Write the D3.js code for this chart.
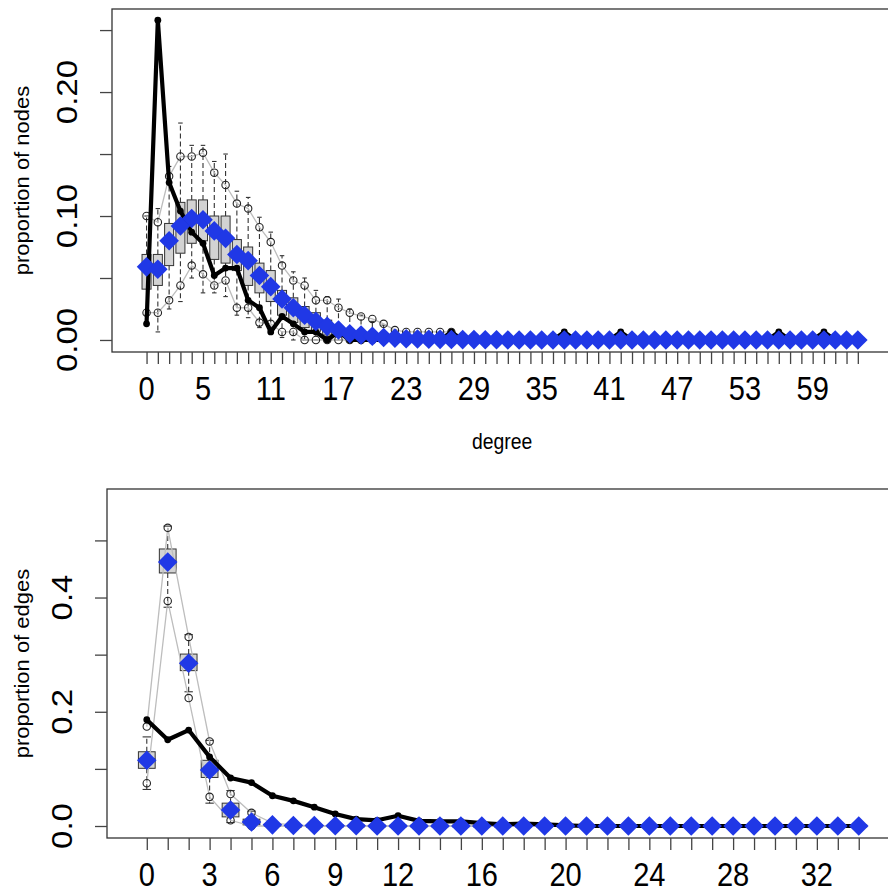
<!DOCTYPE html>
<html><head><meta charset="utf-8">
<script src="https://cdn.jsdelivr.net/npm/d3@7"></script>
<style>body{margin:0;background:#fff}svg{display:block}</style>
</head><body>
<svg id="c" width="888" height="892"></svg>
<script>
// ---------- DATA: top panel (degree) ----------
const degNodes = [0,1,2,3,4,5,6,7,8,9,10,11,12,13,14,15,16,17,18,19,20,21,22,23,24,25,26,27,28,29,30,31,32,33,34,35,36,37,38,39,40,41,42,43,44,45,46,47,48,49,50,51,52,53,54,55,56,57,58,59,60,61,62,63];
const nodeTickLabels = [0,5,11,17,23,29,35,41,47,53,59];
const nodeYTicks = [0,0.05,0.10,0.15,0.20,0.25];
const nodeYLabels = [0,0.10,0.20];
const obsNodes = [0.013,0.258,0.127,0.104,0.087,0.078,0.052,0.058,0.058,0.032,0.026,0.0065,0.019,0.013,0.0065,0.0065,0,0.0065,0,0,0,0,0,0,0,0,0,0.0065,0,0,0,0,0,0,0,0,0,0.0065,0,0,0,0,0.0065,0,0,0,0,0,0,0,0,0,0,0,0,0,0.0065,0,0,0,0.0065,0,0,0];
const meanNodes = [0.059,0.057,0.080,0.092,0.098,0.097,0.088,0.082,0.069,0.064,0.052,0.043,0.033,0.026,0.020,0.015,0.011,0.008,0.005,0.004,0.003,0.002,0.0015,0.001,0.0008,0.0006,0.0005,0.0004,0.0003,0.0003,0.0002,0.0002,0,0,0,0,0,0,0,0,0,0,0,0,0,0,0,0,0,0,0,0,0,0,0,0,0,0,0,0,0,0,0,0];
const q3Nodes = [0.069,0.069,0.094,0.111,0.113,0.113,0.100,0.100,0.081,0.075,0.062,0.056,0.040,0.034,0.027,0.022,0.016,0.011,0.008,0.006,0.004,0.003,0.002,0,0,0,0,0,0,0,0,0,0,0,0,0,0,0,0,0,0,0,0,0,0,0,0,0,0,0,0,0,0,0,0,0,0,0,0,0,0,0,0,0];
const medNodes = [0.058,0.057,0.078,0.091,0.097,0.097,0.091,0.084,0.071,0.065,0.052,0.045,0.032,0.026,0.019,0.013,0.010,0.006,0.004,0.003,0.002,0,0,0,0,0,0,0,0,0,0,0,0,0,0,0,0,0,0,0,0,0,0,0,0,0,0,0,0,0,0,0,0,0,0,0,0,0,0,0,0,0,0,0];
const q1Nodes = [0.041,0.044,0.060,0.070,0.078,0.080,0.065,0.062,0.056,0.044,0.038,0.031,0.020,0.014,0.010,0.007,0.004,0.003,0.001,0,0,0,0,0,0,0,0,0,0,0,0,0,0,0,0,0,0,0,0,0,0,0,0,0,0,0,0,0,0,0,0,0,0,0,0,0,0,0,0,0,0,0,0,0];
const wHiNodes = [0.100,0.106,0.140,0.175,0.157,0.157,0.144,0.150,0.120,0.115,0.099,0.087,0.068,0.055,0.050,0.040,0.035,0.033,0.025,0.020,0.015,0.012,0.008,0.005,0.004,0.003,0.002,0.002,0,0,0,0,0,0,0,0,0,0,0,0,0,0,0,0,0,0,0,0,0,0,0,0,0,0,0,0,0,0,0,0,0,0,0,0];
const wLoNodes = [0.020,0.0065,0.025,0.031,0.050,0.038,0.038,0.035,0.020,0.018,0.010,0.005,0.002,0,0,0,0,0,0,0,0,0,0,0,0,0,0,0,0,0,0,0,0,0,0,0,0,0,0,0,0,0,0,0,0,0,0,0,0,0,0,0,0,0,0,0,0,0,0,0,0,0,0,0];
const hiNodes = [0.100,0.095,0.132,0.148,0.148,0.151,0.135,0.125,0.110,0.106,0.091,0.079,0.060,0.048,0.044,0.032,0.032,0.026,0.022,0.019,0.017,0.013,0.008,0.0065,0.0065,0.0065,0.0065,0.0065,0,0,0,0,0,0,0,0,0,0,0,0,0,0,0,0,0,0,0,0,0,0,0,0,0,0,0,0,0,0,0,0,0,0,0,0];
const loNodes = [0.022,0.022,0.032,0.044,0.060,0.053,0.044,0.048,0.026,0.026,0.014,0.013,0.0065,0.0065,0,0,0,0,0,0,0,0,0,0,0,0,0,0,0,0,0,0,0,0,0,0,0,0,0,0,0,0,0,0,0,0,0,0,0,0,0,0,0,0,0,0,0,0,0,0,0,0,0,0];

// ---------- DATA: bottom panel (edgewise shared partners) ----------
const degEdges = [0,1,2,3,4,5,6,7,8,9,10,11,12,13,14,15,16,17,18,19,20,21,22,23,24,25,26,27,28,29,30,31,32,33,34];
const edgeTickLabels = [0,3,6,9,12,16,20,24,28,32];
const edgeYTicks = [0,0.1,0.2,0.3,0.4,0.5];
const edgeYLabels = [0,0.2,0.4];
const obsEdges = [0.186,0.151,0.168,0.121,0.084,0.076,0.053,0.044,0.033,0.021,0.012,0.010,0.018,0.009,0.008,0.008,0.005,0.003,0.004,0.003,0.001,0,0,0,0,0,0,0,0,0,0,0,0,0,0];
const meanEdges = [0.115,0.462,0.285,0.098,0.028,0.007,0.002,0.001,0.001,0.0005,0.0005,0,0,0,0,0,0,0,0,0,0,0,0,0,0,0,0,0,0,0,0,0,0,0,0];
const q3Edges = [0.130,0.485,0.301,0.115,0.040,0.012,0.003,0,0,0,0,0,0,0,0,0,0,0,0,0,0,0,0,0,0,0,0,0,0,0,0,0,0,0,0];
const medEdges = [0.116,0.463,0.286,0.099,0.027,0.006,0.001,0,0,0,0,0,0,0,0,0,0,0,0,0,0,0,0,0,0,0,0,0,0,0,0,0,0,0,0];
const q1Edges = [0.101,0.443,0.272,0.085,0.016,0.002,0,0,0,0,0,0,0,0,0,0,0,0,0,0,0,0,0,0,0,0,0,0,0,0,0,0,0,0,0];
const wHiEdges = [0.156,0.525,0.335,0.150,0.062,0.026,0.007,0.002,0,0,0,0,0,0,0,0,0,0,0,0,0,0,0,0,0,0,0,0,0,0,0,0,0,0,0];
const wLoEdges = [0.064,0.383,0.235,0.040,0.006,0,0,0,0,0,0,0,0,0,0,0,0,0,0,0,0,0,0,0,0,0,0,0,0,0,0,0,0,0,0];
const hiEdges = [0.174,0.522,0.331,0.148,0.056,0.023,0.005,0.002,0,0,0,0,0,0,0,0,0,0,0,0,0,0,0,0,0,0,0,0,0,0,0,0,0,0,0];
const loEdges = [0.075,0.394,0.224,0.051,0.010,0,0,0,0,0,0,0,0,0,0,0,0,0,0,0,0,0,0,0,0,0,0,0,0,0,0,0,0,0,0];

// ---------- DRAWING ----------
const svg = d3.select("#c");
const FONT = "'Liberation Sans', Arial, Helvetica, sans-serif";
const SX = 0.88;
const BLUE = "#2038e6";

function panel(o) {
  const n = o.cats.length;
  const ext = 0.04 * (n);
  const x = d3.scaleLinear().domain([-0.5 - ext, n - 0.5 + ext]).range([o.left, o.left + o.pxPerUnit * (n + 2 * ext)]);
  const y = d3.scaleLinear().domain(o.ydom).range([o.bottom, o.top]);
  const g = svg.append("g");
  const bw = o.pxPerUnit * 0.8;

  const bx = g.append("g");
  o.cats.forEach((d, i) => {
    const cx = x(d);
    bx.append("line").attr("x1", cx).attr("x2", cx).attr("y1", y(o.q3[i])).attr("y2", y(o.wHi[i]))
      .attr("stroke", "#333").attr("stroke-width", 1.1).attr("stroke-dasharray", "5,3");
    bx.append("line").attr("x1", cx).attr("x2", cx).attr("y1", y(o.q1[i])).attr("y2", y(o.wLo[i]))
      .attr("stroke", "#333").attr("stroke-width", 1.1).attr("stroke-dasharray", "5,3");
    [o.wHi[i], o.wLo[i]].forEach(v => {
      bx.append("line").attr("x1", cx - bw / 4).attr("x2", cx + bw / 4).attr("y1", y(v)).attr("y2", y(v))
        .attr("stroke", "#333").attr("stroke-width", 1.1);
    });
    bx.append("rect").attr("x", cx - bw / 2).attr("width", bw)
      .attr("y", y(o.q3[i])).attr("height", Math.max(0, y(o.q1[i]) - y(o.q3[i])))
      .attr("fill", "#d3d3d3").attr("stroke", "#333").attr("stroke-width", 1);
    bx.append("line").attr("x1", cx - bw / 2).attr("x2", cx + bw / 2).attr("y1", y(o.med[i])).attr("y2", y(o.med[i]))
      .attr("stroke", "#222").attr("stroke-width", 3);
  });

  const ln = d3.line().x((d, i) => x(o.cats[i])).y(d => y(d));
  [o.hi, o.lo].forEach(arr => {
    g.append("path").attr("d", ln(arr)).attr("fill", "none").attr("stroke", "#bdbdbd").attr("stroke-width", 1.3);
  });
  [o.hi, o.lo].forEach(arr => {
    g.append("g").selectAll("circle").data(arr).join("circle")
      .attr("cx", (d, i) => x(o.cats[i])).attr("cy", d => y(d)).attr("r", 3.7)
      .attr("fill", "none").attr("stroke", "#222").attr("stroke-width", 1.1);
  });

  g.append("path").attr("d", ln(o.obs)).attr("fill", "none").attr("stroke", "#000")
    .attr("stroke-width", 4.2).attr("stroke-linejoin", "round");
  g.append("g").selectAll("circle").data(o.obs).join("circle")
    .attr("cx", (d, i) => x(o.cats[i])).attr("cy", d => y(d)).attr("r", 3.4).attr("fill", "#000");

  const s = 9.8;
  g.append("g").selectAll("path").data(o.mean).join("path")
    .attr("d", `M0,${-s}L${s},0L0,${s}L${-s},0Z`)
    .attr("transform", (d, i) => `translate(${x(o.cats[i])},${y(d)})`)
    .attr("fill", BLUE);

  g.append("rect").attr("x", x.range()[0]).attr("y", o.top)
    .attr("width", x.range()[1] - x.range()[0]).attr("height", o.bottom - o.top)
    .attr("fill", "none").attr("stroke", "#333").attr("stroke-width", 1.3);

  const xa = g.append("g").attr("transform", `translate(0,${o.bottom})`)
    .call(d3.axisBottom(x).tickValues(o.cats).tickSize(12).tickSizeOuter(0).tickFormat(() => ""));
  xa.select(".domain").remove();
  xa.selectAll(".tick line").attr("stroke", "#444").attr("stroke-width", 1.3);
  o.xLabels.forEach(d => {
    g.append("text").attr("transform", `translate(${x(d)},${o.bottom + 48}) scale(${SX},1)`)
      .attr("text-anchor", "middle").attr("font-family", FONT).attr("font-size", 33).attr("fill", "#000").text(d);
  });

  const ya = g.append("g").attr("transform", `translate(${x.range()[0]},0)`)
    .call(d3.axisLeft(y).tickValues(o.yTicks).tickSize(12).tickSizeOuter(0).tickFormat(() => ""));
  ya.select(".domain").remove();
  ya.selectAll(".tick line").attr("stroke", "#444").attr("stroke-width", 1.3);
  o.yLabels.forEach(v => {
    g.append("text").attr("transform", `translate(${x.range()[0] - 35},${y(v)}) scale(${SX},1) rotate(-90)`)
      .attr("text-anchor", "middle").attr("font-family", FONT).attr("font-size", 33).attr("fill", "#000")
      .text(d3.format(o.yFmt)(v));
  });
  g.append("text").attr("transform", `translate(29,${(o.top + o.bottom) / 2}) scale(${SX},1) rotate(-90)`)
    .attr("text-anchor", "middle").attr("font-family", FONT).attr("font-size", 22).attr("fill", "#000").text(o.ylab);
  if (o.xlab) {
    g.append("text").attr("transform", `translate(${(x.range()[0] + x.range()[1]) / 2},449) scale(${SX},1)`)
      .attr("text-anchor", "middle").attr("font-family", FONT).attr("font-size", 22).attr("fill", "#000").text(o.xlab);
  }
}

panel({cats: degNodes, left: 112, pxPerUnit: 11.29, top: 9, bottom: 352, ydom: [-0.0097, 0.267],
  q3: q3Nodes, med: medNodes, q1: q1Nodes, wHi: wHiNodes, wLo: wLoNodes, hi: hiNodes, lo: loNodes,
  obs: obsNodes, mean: meanNodes, xLabels: nodeTickLabels, yTicks: nodeYTicks, yLabels: nodeYLabels,
  yFmt: ".2f", ylab: "proportion of nodes", xlab: "degree"});

panel({cats: degEdges, left: 107, pxPerUnit: 20.94, top: 489, bottom: 838, ydom: [-0.021, 0.590],
  q3: q3Edges, med: medEdges, q1: q1Edges, wHi: wHiEdges, wLo: wLoEdges, hi: hiEdges, lo: loEdges,
  obs: obsEdges, mean: meanEdges, xLabels: edgeTickLabels, yTicks: edgeYTicks, yLabels: edgeYLabels,
  yFmt: ".1f", ylab: "proportion of edges", xlab: null});
</script>
</body></html>
